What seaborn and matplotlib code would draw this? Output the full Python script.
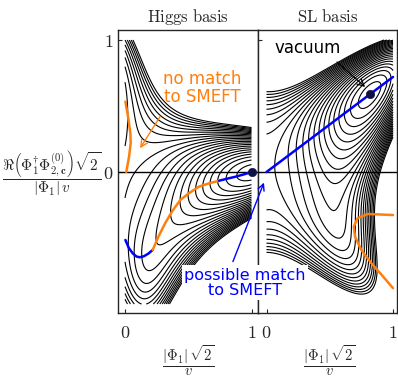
import numpy as np
import pandas as pd
import matplotlib
matplotlib.use("Agg")
import matplotlib.pyplot as plt
import seaborn as sns

# ---------------- data ----------------
# potential coefficients (field plane: x = |Phi1| sqrt2 / v, y = Re(Phi1^+ Phi2) sqrt2/(|Phi1| v))
quad_coef = [-0.1974, 0.03145, -0.0453]             # x^2, y^2, x*y
quart_coef = [0.3148, 0.25, -0.318, -0.164, 0.16]   # x^4, y^4, x^2y^2, x^3y, xy^3
tan_beta = 0.72
level_lo, level_hi, level_step = -0.0685, 0.047, 0.0052

# Higgs basis curves
hb_blue1_x = [0.003, 0.03, 0.06, 0.09, 0.117, 0.15, 0.185, 0.219]
hb_blue1_y = [-0.515, -0.575, -0.615, -0.64, -0.646, -0.638, -0.618, -0.59]
hb_orange_x = [0.219, 0.264, 0.317, 0.371, 0.437, 0.504, 0.584, 0.664, 0.744]
hb_orange_y = [-0.59, -0.49, -0.389, -0.30, -0.212, -0.162, -0.111, -0.086, -0.066]
hb_blue2_x = [0.744, 0.81, 0.877, 0.94, 1.0]
hb_blue2_y = [-0.066, -0.05, -0.035, -0.018, 0.0]
hb_top_x = [0.003, 0.024, 0.043, 0.045, 0.032, 0.01]
hb_top_y = [0.533, 0.42, 0.29, 0.217, 0.116, 0.0]
hb_vacuum = (1.0, 0.0)

# SL basis curves
sl_blue_x = [0.0, 1.0]
sl_blue_y = [0.0, 0.72]
sl_orange_x = [1.0, 0.80, 0.72, 0.69, 0.70, 0.749, 0.828, 0.92, 1.0]
sl_orange_y = [-0.326, -0.318, -0.35, -0.414, -0.49, -0.59, -0.69, -0.79, -0.88]
sl_vacuum = (0.815, 0.59)

ORANGE = "#ff7f0e"
BLUE = "#0000ff"
DOT = "#101048"

# ---------------- style ----------------
sns.set_style("ticks")
plt.rcParams["font.family"] = ["DejaVu Sans"]
plt.rcParams["mathtext.fontset"] = "cm"
plt.rcParams["xtick.direction"] = "in"
plt.rcParams["ytick.direction"] = "in"
plt.rcParams["contour.negative_linestyle"] = "solid"

W, H = 398, 379
fig = plt.figure(figsize=(W / 100, H / 100), dpi=100)
axL = fig.add_axes([118 / W, 1 - 313 / H, 140 / W, 283 / H])
axR = fig.add_axes([258 / W, 1 - 313 / H, 139 / W, 283 / H])


def potential(p1, p2):
    a1, a2, a3 = quad_coef
    l1, l2, l3, l6, l7 = quart_coef
    return (a1 * p1**2 + a2 * p2**2 + a3 * p1 * p2 + l1 * p1**4 + l2 * p2**4
            + l3 * p1**2 * p2**2 + l6 * p1**3 * p2 + l7 * p1 * p2**3)


gx = np.linspace(0.0, 1.0, 500)
gy = np.linspace(-1.0, 1.0, 900)
X, Y = np.meshgrid(gx, gy)
beta = np.arctan(tan_beta)
c, s = np.cos(beta), np.sin(beta)
VR = potential(X, Y)
VL = potential(c * X - s * Y, s * X + c * Y)
levels = np.arange(level_lo, level_hi, level_step)

axL.contour(X, Y, VL, levels=levels, colors="k", linewidths=0.8, linestyles="solid")
axR.contour(X, Y, VR, levels=levels, colors="k", linewidths=0.8, linestyles="solid")

for ax in (axL, axR):
    ax.axhline(0, color="k", lw=1.0, zorder=3)

def curve(ax, xs, ys, col):
    df = pd.DataFrame({"x": xs, "y": ys})
    sns.lineplot(data=df, x="x", y="y", ax=ax, color=col, lw=1.8, sort=False,
                 estimator=None, zorder=4)

curve(axL, hb_blue1_x, hb_blue1_y, BLUE)
curve(axL, hb_orange_x, hb_orange_y, ORANGE)
curve(axL, hb_blue2_x, hb_blue2_y, BLUE)
curve(axL, hb_top_x, hb_top_y, ORANGE)
curve(axR, sl_blue_x, sl_blue_y, BLUE)
curve(axR, sl_orange_x, sl_orange_y, ORANGE)

sns.scatterplot(x=[hb_vacuum[0]], y=[hb_vacuum[1]], ax=axL, color=DOT, s=36,
                zorder=6, clip_on=False, edgecolor=DOT)
sns.scatterplot(x=[sl_vacuum[0]], y=[sl_vacuum[1]], ax=axR, color=DOT, s=36,
                zorder=6, edgecolor=DOT)

axL.set_xlim(-7 / 126.5, 133 / 126.5)
axR.set_xlim(-8.5 / 126.5, 130.5 / 126.5)
for ax in (axL, axR):
    ax.set_ylim(-141 / 132, 142 / 132)
    ax.set_xlabel("")
    ax.set_ylabel("")
    ax.set_xticks([0, 1])
    ax.set_xticklabels([r"$0$", r"$1$"], fontsize=13)
    ax.set_yticks([0, 1])
    ax.tick_params(length=3, width=0.8, pad=3)
    ax.tick_params(axis="x", pad=8)
    for sp in ax.spines.values():
        sp.set_visible(True)
        sp.set_linewidth(1.0)
axL.set_yticklabels([r"$0$", r"$1$"], fontsize=13)
axR.set_yticklabels([])

axL.set_title(r"$\mathrm{Higgs\ basis}$", fontsize=12, pad=6)
axR.set_title(r"$\mathrm{SL\ basis}$", fontsize=12, pad=6)

fig.text(52 / W, 1 - 173 / H,
         r"$\dfrac{\Re\left(\Phi_1^{\dagger}\Phi_{2,\mathbf{c}}^{(0)}\right)\sqrt{2}}{|\Phi_1|\,v}$",
         ha="center", va="center", fontsize=11)
for xc in (188, 329):
    fig.text(xc / W, 1 - 361 / H, r"$\dfrac{|\Phi_1|\,\sqrt{2}}{v}$",
             ha="center", va="center", fontsize=10.5)

axL.annotate("no match\nto SMEFT", xy=(0.119, 0.18), xytext=(0.609, 0.636),
             color=ORANGE, fontsize=12, ha="center", va="center", linespacing=1.0,
             arrowprops=dict(arrowstyle="->,head_length=0.4,head_width=0.2",
                             color=ORANGE, lw=1.0, relpos=(0.05, 0.0), shrinkA=6, shrinkB=0))
axR.annotate("possible match\nto SMEFT", xy=(-0.02, -0.08), xycoords="data",
             xytext=(0.949, -0.84), textcoords=axL.transData,
             color=BLUE, fontsize=11.5, ha="center", va="center", linespacing=1.0,
             bbox=dict(boxstyle="square,pad=0.15", fc="white", ec="none"),
             arrowprops=dict(arrowstyle="->,head_length=0.4,head_width=0.2",
                             color=BLUE, lw=1.0, relpos=(0.38, 1.0), shrinkA=3, shrinkB=0),
             zorder=10)
axR.annotate("vacuum", xy=(0.78, 0.644), xytext=(0.328, 0.94),
             color="k", fontsize=12, ha="center", va="center",
             arrowprops=dict(arrowstyle="->,head_length=0.4,head_width=0.2",
                             color="k", lw=0.9, relpos=(0.85, 0.0), shrinkA=2, shrinkB=0),
             zorder=10)

fig.savefig("out.png", dpi=100)
